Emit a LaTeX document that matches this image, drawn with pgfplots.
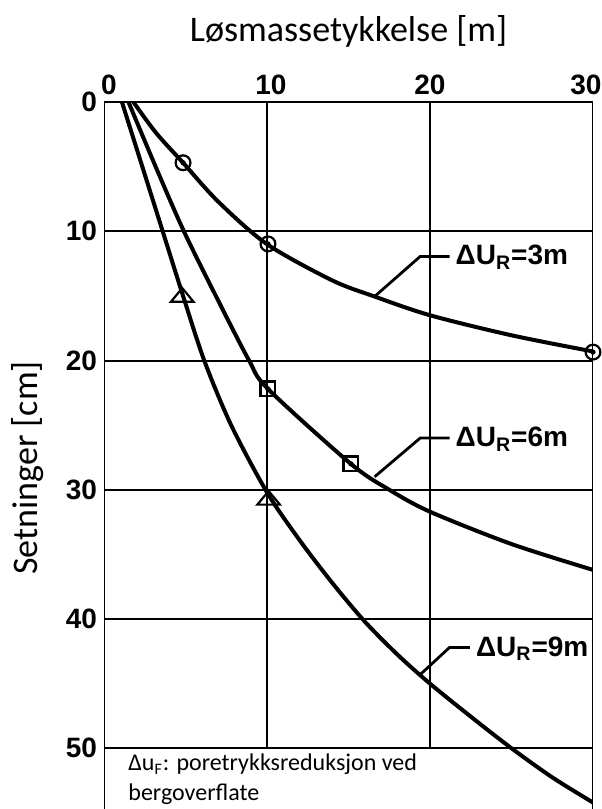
\documentclass[border=0pt]{standalone}
\usepackage{pgfplots}
\pgfplotsset{compat=1.18}
\usepackage{fontspec}
\setmainfont{Carlito}
\newfontfamily\arial{Liberation Sans}

\begin{document}
\begin{tikzpicture}
\begin{axis}[
  name=ax,
  scale only axis,
  width=244.5pt, height=353.5pt,
  xmin=0, xmax=30, ymin=0, ymax=54.7,
  y dir=reverse,
  axis line style={draw=none},
  xtick={0,10,20,30},
  xticklabels={\hspace*{5pt}0, \hspace*{4pt}10, 20, 30\hspace*{7pt}},
  ytick={0,10,20,30,40,50},
  yticklabels={\raisebox{-7pt}{0}, 10, 20, 30, 40, 50},
  xticklabel pos=upper,
  ytick pos=left,
  major tick length=0pt,
  tick style={draw=none},
  /pgf/number format/assume math mode=true,
  ticklabel style={font=\arial\bfseries\fontsize{14}{14}\selectfont},
  xticklabel style={inner sep=0pt, anchor=south, yshift=3.5pt},
  yticklabel style={inner sep=0pt, anchor=east, xshift=-3.3pt},
  clip=true,
]
% grid
\draw[line width=1pt] (0,10) -- (30,10);
\draw[line width=1pt] (0,20) -- (30,20);
\draw[line width=1pt] (0,30) -- (30,30);
\draw[line width=1pt] (0,40) -- (30,40);
\draw[line width=1pt] (0,50) -- (30,50);
\draw[line width=1pt] (10,0) -- (10,50);
\draw[line width=1pt] (20,0) -- (20,50);
% frame (top, left, right)
\draw[line width=1.4pt] (0,54.7) -- (0,0) -- (30,0) -- (30,54.7);

% Delta U_R = 3 m
\addplot[smooth, line width=2pt] coordinates {
  (1.8,0) (3.2,2.4) (4.85,4.7) (7,7.7) (10,11.0) (14,13.8) (16.6,15.05)
  (20,16.5) (25,18.05) (30,19.3)
};
% Delta U_R = 6 m
\addplot[smooth, line width=2pt] coordinates {
  (1.5,0) (3.2,5.1) (4.9,10) (6.9,15.1) (8.9,20) (10.06,22.2)
  (15.15,28.0) (17.5,30.0) (20,31.7) (25,34.2) (30,36.2)
};
% Delta U_R = 9 m
\addplot[smooth, line width=2pt] coordinates {
  (1.1,0) (2.35,5) (3.6,10) (4.85,15) (6.15,20) (7.8,25) (10,30.2)
  (12,33.9) (14,37.2) (16,40.2) (18,42.75) (20,45.0) (22.5,47.55)
  (25,50.0) (27.5,52.25) (30,54.2)
};

% markers
\addplot[only marks, mark=o, mark size=3.7pt, mark options={fill=white, line width=1.1pt}]
  coordinates {(4.85,4.7) (10.06,10.98) (30,19.35)};
\addplot[only marks, mark=*, mark size=1.1pt]
  coordinates {(4.85,4.7) (10.06,10.98) (30,19.35)};
\addplot[only marks, mark=square, mark size=3.7pt, mark options={fill=white, line width=1.1pt}]
  coordinates {(10.06,22.2) (15.15,28.0)};
\addplot[only marks, mark=*, mark size=1.1pt]
  coordinates {(10.06,22.2) (15.15,28.0)};
\addplot[only marks, mark=triangle, mark size=6.5pt, mark options={fill=white, line width=1.1pt, yscale=0.7}]
  coordinates {(4.8,15.1) (10.1,30.8)};

% leaders and labels
\draw[line width=1.4pt] (16.6,15.05) -- (19.4,11.95) -- (21.2,11.95);
\node[anchor=west, inner sep=0pt, font=\arial\bfseries\fontsize{14}{14}\selectfont] at (21.55,12.0) {ΔU\textsubscript{R}=3m};
\draw[line width=1.4pt] (16.6,29.0) -- (19.4,26.0) -- (21.2,26.0);
\node[anchor=west, inner sep=0pt, font=\arial\bfseries\fontsize{14}{14}\selectfont] at (21.55,26.1) {ΔU\textsubscript{R}=6m};
\draw[line width=1.4pt] (19.4,44.3) -- (21.2,42.2) -- (22.45,42.2);
\node[anchor=west, inner sep=0pt, font=\arial\bfseries\fontsize{14}{14}\selectfont] at (22.8,42.3) {ΔU\textsubscript{R}=9m};
\end{axis}

\node[anchor=base, font=\fontsize{18}{18}\selectfont] at ([yshift=30pt]ax.north) {Løsmassetykkelse [m]};
\node[rotate=90, anchor=base, font=\fontsize{18}{18}\selectfont] at ([xshift=-33pt, yshift=-183pt]ax.north west) {Setninger [cm]};
\node[anchor=base west, inner sep=0pt, font=\fontsize{12}{14}\selectfont] at ([xshift=12pt, yshift=-334.5pt]ax.north west) {Δu\textsubscript{F}: poretrykksreduksjon ved};
\node[anchor=base west, inner sep=0pt, font=\fontsize{12}{14}\selectfont] at ([xshift=12pt, yshift=-349.5pt]ax.north west) {bergoverflate};

\pgfresetboundingbox
\path ([xshift=-52pt]ax.south west) rectangle ([xshift=4.5pt, yshift=51pt]ax.north east);
\end{tikzpicture}
\end{document}
